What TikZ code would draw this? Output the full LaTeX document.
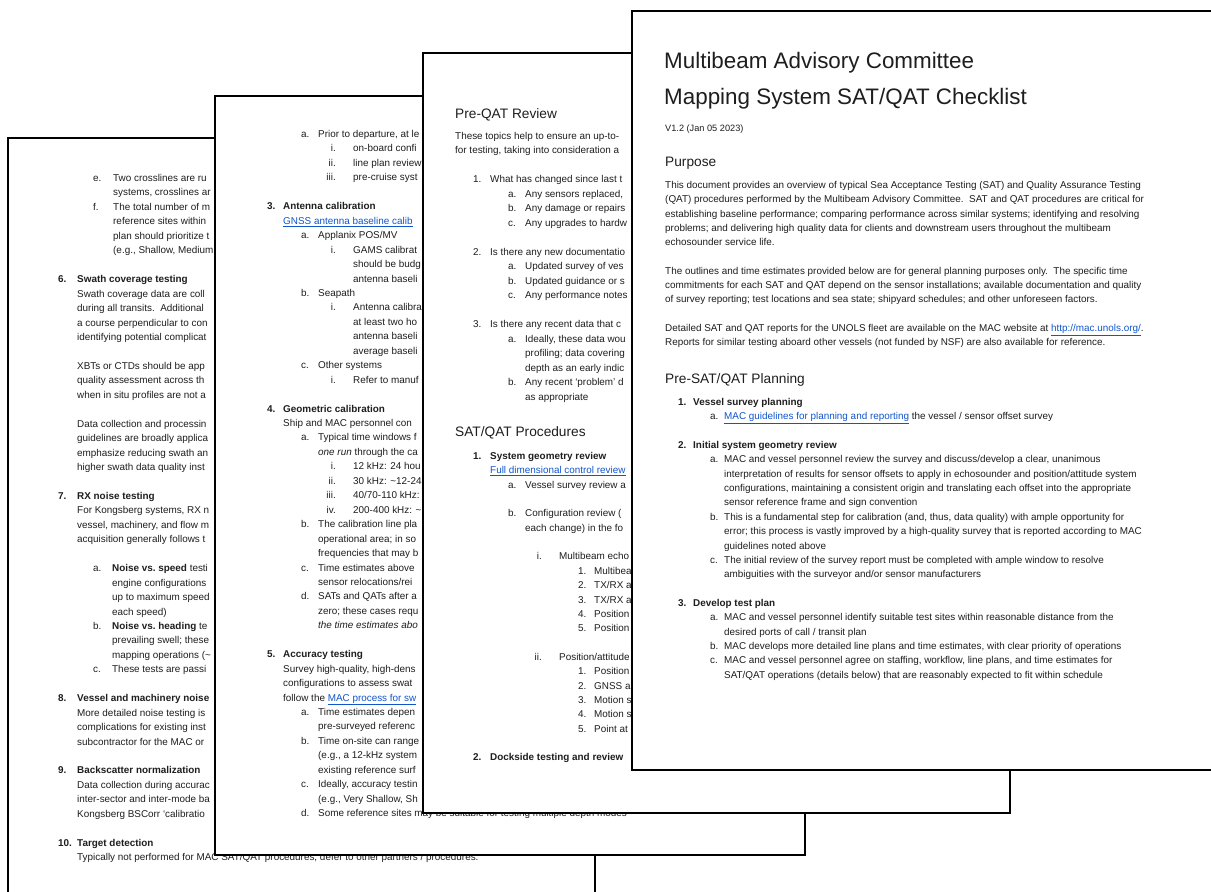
\documentclass[tikz,border=0pt]{standalone}
\usepackage{fontspec}
\setmainfont{Liberation Sans}
\usetikzlibrary{positioning}
\definecolor{linkblue}{RGB}{17,85,204}
\definecolor{inkgray}{RGB}{30,30,30}

\newcounter{txtline}
% one text line on the page grid: x, line number, text
\newcommand{\dline}[3]{\stepcounter{txtline}%
  \node[body, anchor=base west] (txt\arabic{txtline}) at (#1,{\ystart+#2*\lsp}) {#3};}
% list marker set flush right (i., ii., iii.)
\newcommand{\dmark}[3]{\stepcounter{txtline}%
  \node[body, anchor=base east] (txt\arabic{txtline}) at (#1,{\ystart+#2*\lsp}) {#3};}
\newcommand{\weblink}[1]{\textcolor{linkblue}{\underline{#1}}}

\begin{document}
\begin{tikzpicture}[
    x=1pt, y=-1pt,
    page/.style={draw=black, line width=1.8pt, fill=white},
    body/.style={font=\fontsize{9.9}{12}\selectfont, text=inkgray, inner sep=0pt},
    pagehead/.style={font=\fontsize{13.7}{16}\selectfont, text=inkgray, inner sep=0pt, anchor=base west},
    doctitle/.style={font=\fontsize{22.4}{26}\selectfont, text=inkgray, inner sep=0pt, anchor=base west}
  ]
  \clip (0,0) rectangle (1211,892);

  % Page 1 (back)
  \draw[page] (8,138) rectangle (595,910);
  \def\ystart{181.5}\def\lsp{14.45}
  \dline{93}{0}{e.} \dline{113}{0}{Two crosslines are ru}
  \dline{113}{1}{systems, crosslines ar}
  \dline{93}{2}{f.} \dline{113}{2}{The total number of m}
  \dline{113}{3}{reference sites within}
  \dline{113}{4}{plan should prioritize t}
  \dline{113}{5}{(e.g., Shallow, Medium}
  \dline{58}{7}{\textbf{6.}} \dline{77}{7}{\textbf{Swath coverage testing}}
  \dline{77}{8}{Swath coverage data are coll}
  \dline{77}{9}{during all transits.\ \ Additional}
  \dline{77}{10}{a course perpendicular to con}
  \dline{77}{11}{identifying potential complicat}
  \dline{77}{13}{XBTs or CTDs should be app}
  \dline{77}{14}{quality assessment across th}
  \dline{77}{15}{when in situ profiles are not a}
  \dline{77}{17}{Data collection and processin}
  \dline{77}{18}{guidelines are broadly applica}
  \dline{77}{19}{emphasize reducing swath an}
  \dline{77}{20}{higher swath data quality inst}
  \dline{58}{22}{\textbf{7.}} \dline{77}{22}{\textbf{RX noise testing}}
  \dline{77}{23}{For Kongsberg systems, RX n}
  \dline{77}{24}{vessel, machinery, and flow m}
  \dline{77}{25}{acquisition generally follows t}
  \dline{93}{27}{a.} \dline{112}{27}{\textbf{Noise vs.\ speed} testi}
  \dline{112}{28}{engine configurations}
  \dline{112}{29}{up to maximum speed}
  \dline{112}{30}{each speed)}
  \dline{93}{31}{b.} \dline{112}{31}{\textbf{Noise vs.\ heading} te}
  \dline{112}{32}{prevailing swell; these}
  \dline{112}{33}{mapping operations (\textasciitilde}
  \dline{93}{34}{c.} \dline{112}{34}{These tests are passi}
  \dline{58}{36}{\textbf{8.}} \dline{77}{36}{\textbf{Vessel and machinery noise}}
  \dline{77}{37}{More detailed noise testing is}
  \dline{77}{38}{complications for existing inst}
  \dline{77}{39}{subcontractor for the MAC or}
  \dline{58}{41}{\textbf{9.}} \dline{77}{41}{\textbf{Backscatter normalization}}
  \dline{77}{42}{Data collection during accurac}
  \dline{77}{43}{inter-sector and inter-mode ba}
  \dline{77}{44}{Kongsberg BSCorr `calibratio}
  \dline{58}{46}{\textbf{10.}} \dline{77}{46}{\textbf{Target detection}}
  \dline{77}{47}{Typically not performed for MAC SAT/QAT procedures, defer to other partners / procedures.}

  % Page 2
  \draw[page] (215,96) rectangle (805,855);
  \def\ystart{137.5}\def\lsp{14.45}
  \dline{301}{0}{a.} \dline{318}{0}{Prior to departure, at le}
  \dmark{336}{1}{i.} \dline{353}{1}{on-board confi}
  \dmark{336}{2}{ii.} \dline{353}{2}{line plan review}
  \dmark{336}{3}{iii.} \dline{353}{3}{pre-cruise syst}
  \dline{267}{5}{\textbf{3.}} \dline{283}{5}{\textbf{Antenna calibration}}
  \dline{283}{6}{\weblink{GNSS antenna baseline calib}}
  \dline{301}{7}{a.} \dline{318}{7}{Applanix POS/MV}
  \dmark{336}{8}{i.} \dline{353}{8}{GAMS calibrat}
  \dline{353}{9}{should be budg}
  \dline{353}{10}{antenna baseli}
  \dline{301}{11}{b.} \dline{318}{11}{Seapath}
  \dmark{336}{12}{i.} \dline{353}{12}{Antenna calibra}
  \dline{353}{13}{at least two ho}
  \dline{353}{14}{antenna baseli}
  \dline{353}{15}{average baseli}
  \dline{301}{16}{c.} \dline{318}{16}{Other systems}
  \dmark{336}{17}{i.} \dline{353}{17}{Refer to manuf}
  \dline{267}{19}{\textbf{4.}} \dline{283}{19}{\textbf{Geometric calibration}}
  \dline{283}{20}{Ship and MAC personnel con}
  \dline{301}{21}{a.} \dline{318}{21}{Typical time windows f}
  \dline{318}{22}{\textit{one run} through the ca}
  \dmark{336}{23}{i.} \dline{353}{23}{12 kHz: 24 hou}
  \dmark{336}{24}{ii.} \dline{353}{24}{30 kHz: \textasciitilde12-24}
  \dmark{336}{25}{iii.} \dline{353}{25}{40/70-110 kHz:}
  \dmark{336}{26}{iv.} \dline{353}{26}{200-400 kHz: \textasciitilde}
  \dline{301}{27}{b.} \dline{318}{27}{The calibration line pla}
  \dline{318}{28}{operational area; in so}
  \dline{318}{29}{frequencies that may b}
  \dline{301}{30}{c.} \dline{318}{30}{Time estimates above}
  \dline{318}{31}{sensor relocations/rei}
  \dline{301}{32}{d.} \dline{318}{32}{SATs and QATs after a}
  \dline{318}{33}{zero; these cases requ}
  \dline{318}{34}{\textit{the time estimates abo}}
  \dline{267}{36}{\textbf{5.}} \dline{283}{36}{\textbf{Accuracy testing}}
  \dline{283}{37}{Survey high-quality, high-dens}
  \dline{283}{38}{configurations to assess swat}
  \dline{283}{39}{follow the \weblink{MAC process for sw}}
  \dline{301}{40}{a.} \dline{318}{40}{Time estimates depen}
  \dline{318}{41}{pre-surveyed referenc}
  \dline{301}{42}{b.} \dline{318}{42}{Time on-site can range}
  \dline{318}{43}{(e.g., a 12-kHz system}
  \dline{318}{44}{existing reference surf}
  \dline{301}{45}{c.} \dline{318}{45}{Ideally, accuracy testin}
  \dline{318}{46}{(e.g., Very Shallow, Sh}
  \dline{301}{47}{d.} \dline{318}{47}{Some reference sites may be suitable for testing multiple depth modes}

  % Page 3
  \draw[page] (423,53) rectangle (1010,813);
  \node[pagehead] (preqat) at (455,118.5) {Pre-QAT Review};
  \def\ystart{139}\def\lsp{14.5}
  \dline{455}{0}{These topics help to ensure an up-to-}
  \dline{455}{1}{for testing, taking into consideration a}
  \dline{473}{3}{1.} \dline{490}{3}{What has changed since last t}
  \dline{508}{4}{a.} \dline{525}{4}{Any sensors replaced,}
  \dline{508}{5}{b.} \dline{525}{5}{Any damage or repairs}
  \dline{508}{6}{c.} \dline{525}{6}{Any upgrades to hardw}
  \dline{473}{8}{2.} \dline{490}{8}{Is there any new documentatio}
  \dline{508}{9}{a.} \dline{525}{9}{Updated survey of ves}
  \dline{508}{10}{b.} \dline{525}{10}{Updated guidance or s}
  \dline{508}{11}{c.} \dline{525}{11}{Any performance notes}
  \dline{473}{13}{3.} \dline{490}{13}{Is there any recent data that c}
  \dline{508}{14}{a.} \dline{525}{14}{Ideally, these data wou}
  \dline{525}{15}{profiling; data covering}
  \dline{525}{16}{depth as an early indic}
  \dline{508}{17}{b.} \dline{525}{17}{Any recent `problem' d}
  \dline{525}{18}{as appropriate}
  \node[pagehead] (satqat) at (455,436.5) {SAT/QAT Procedures};
  \def\ystart{459.5}\def\lsp{14.35}
  \dline{473}{0}{\textbf{1.}} \dline{490}{0}{\textbf{System geometry review}}
  \dline{490}{1}{\weblink{Full dimensional control review}}
  \dline{508}{2}{a.} \dline{525}{2}{Vessel survey review a}
  \dline{508}{4}{b.} \dline{525}{4}{Configuration review (}
  \dline{525}{5}{each change) in the fo}
  \dmark{542}{7}{i.} \dline{559}{7}{Multibeam echo}
  \dline{578}{8}{1.} \dline{594}{8}{Multibea}
  \dline{578}{9}{2.} \dline{594}{9}{TX/RX a}
  \dline{578}{10}{3.} \dline{594}{10}{TX/RX a}
  \dline{578}{11}{4.} \dline{594}{11}{Position}
  \dline{578}{12}{5.} \dline{594}{12}{Position}
  \dmark{542}{14}{ii.} \dline{559}{14}{Position/attitude}
  \dline{578}{15}{1.} \dline{594}{15}{Position}
  \dline{578}{16}{2.} \dline{594}{16}{GNSS a}
  \dline{578}{17}{3.} \dline{594}{17}{Motion s}
  \dline{578}{18}{4.} \dline{594}{18}{Motion s}
  \dline{578}{19}{5.} \dline{594}{19}{Point at}
  \dline{473}{21}{\textbf{2.}} \dline{490}{21}{\textbf{Dockside testing and review}}

  % Page 4 (front)
  \draw[page] (632,11) rectangle (1230,770);
  \node[doctitle] (title1) at (664,68) {Multibeam Advisory Committee};
  \node[doctitle] (title2) at (664,104) {Mapping System SAT/QAT Checklist};
  \node[body, anchor=base west, font=\fontsize{9.2}{11}\selectfont] (version) at (665,131) {V1.2 (Jan 05 2023)};
  \node[pagehead] (purpose) at (665,166.5) {Purpose};
  \def\ystart{188.5}\def\lsp{14.3}
  \dline{665}{0}{This document provides an overview of typical Sea Acceptance Testing (SAT) and Quality Assurance Testing}
  \dline{665}{1}{(QAT) procedures performed by the Multibeam Advisory Committee.\ \ SAT and QAT procedures are critical for}
  \dline{665}{2}{establishing baseline performance; comparing performance across similar systems; identifying and resolving}
  \dline{665}{3}{problems; and delivering high quality data for clients and downstream users throughout the multibeam}
  \dline{665}{4}{echosounder service life.}
  \dline{665}{6}{The outlines and time estimates provided below are for general planning purposes only.\ \ The specific time}
  \dline{665}{7}{commitments for each SAT and QAT depend on the sensor installations; available documentation and quality}
  \dline{665}{8}{of survey reporting; test locations and sea state; shipyard schedules; and other unforeseen factors.}
  \dline{665}{10}{Detailed SAT and QAT reports for the UNOLS fleet are available on the MAC website at \weblink{http://mac.unols.org/}.}
  \dline{665}{11}{Reports for similar testing aboard other vessels (not funded by NSF) are also available for reference.}
  \node[pagehead] (planning) at (665,383) {Pre-SAT/QAT Planning};
  \def\ystart{405.5}\def\lsp{14.35}
  \dline{678}{0}{\textbf{1.}} \dline{693}{0}{\textbf{Vessel survey planning}}
  \dline{710}{1}{a.} \dline{724}{1}{\weblink{MAC guidelines for planning and reporting} the vessel / sensor offset survey}
  \dline{678}{3}{\textbf{2.}} \dline{693}{3}{\textbf{Initial system geometry review}}
  \dline{710}{4}{a.} \dline{724}{4}{MAC and vessel personnel review the survey and discuss/develop a clear, unanimous}
  \dline{724}{5}{interpretation of results for sensor offsets to apply in echosounder and position/attitude system}
  \dline{724}{6}{configurations, maintaining a consistent origin and translating each offset into the appropriate}
  \dline{724}{7}{sensor reference frame and sign convention}
  \dline{710}{8}{b.} \dline{724}{8}{This is a fundamental step for calibration (and, thus, data quality) with ample opportunity for}
  \dline{724}{9}{error; this process is vastly improved by a high-quality survey that is reported according to MAC}
  \dline{724}{10}{guidelines noted above}
  \dline{710}{11}{c.} \dline{724}{11}{The initial review of the survey report must be completed with ample window to resolve}
  \dline{724}{12}{ambiguities with the surveyor and/or sensor manufacturers}
  \dline{678}{14}{\textbf{3.}} \dline{693}{14}{\textbf{Develop test plan}}
  \dline{710}{15}{a.} \dline{724}{15}{MAC and vessel personnel identify suitable test sites within reasonable distance from the}
  \dline{724}{16}{desired ports of call / transit plan}
  \dline{710}{17}{b.} \dline{724}{17}{MAC develops more detailed line plans and time estimates, with clear priority of operations}
  \dline{710}{18}{c.} \dline{724}{18}{MAC and vessel personnel agree on staffing, workflow, line plans, and time estimates for}
  \dline{724}{19}{SAT/QAT operations (details below) that are reasonably expected to fit within schedule}
\end{tikzpicture}
\end{document}
